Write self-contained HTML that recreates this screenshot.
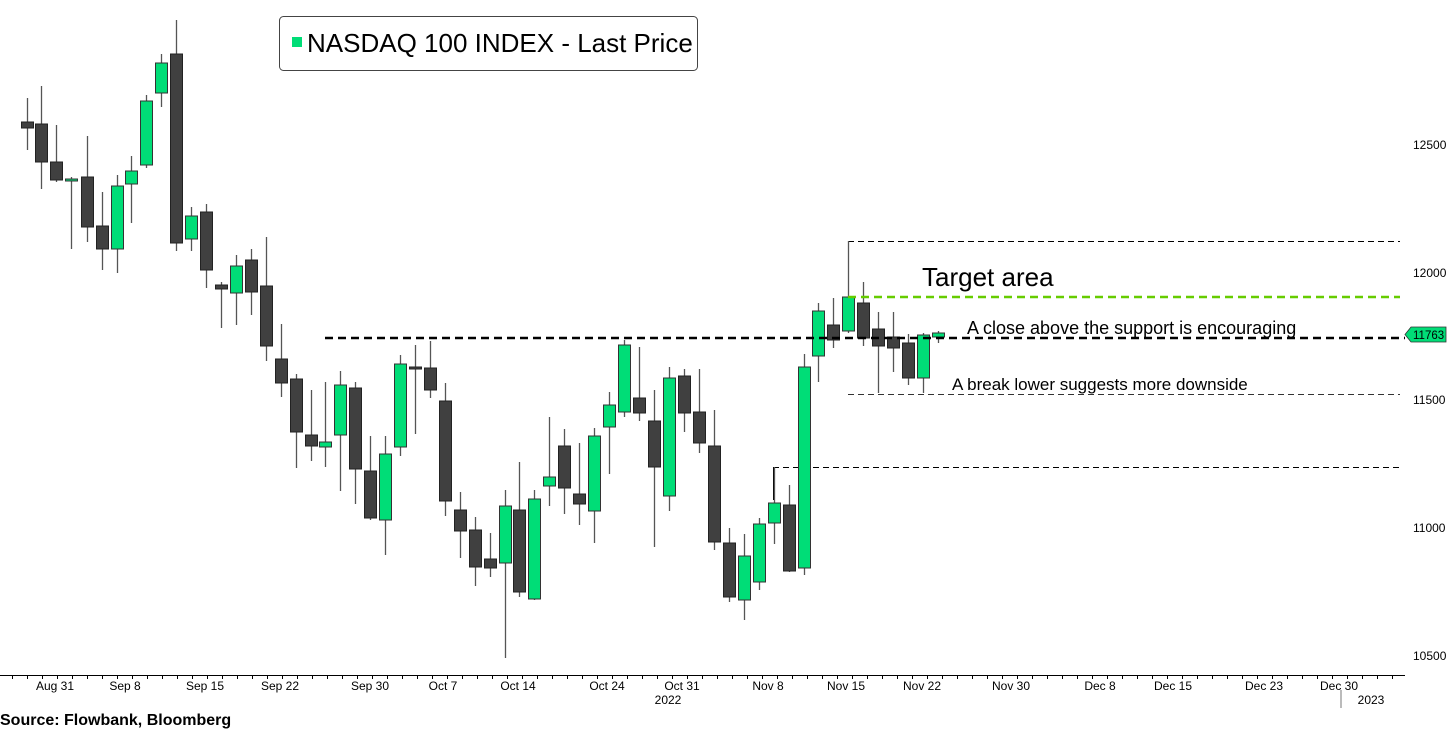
<!DOCTYPE html>
<html><head><meta charset="utf-8"><style>
body{margin:0;background:#fff;}
svg{display:block;font-family:"Liberation Sans",sans-serif;}
</style></head><body>
<svg id="s" width="1448" height="729" xmlns="http://www.w3.org/2000/svg">
<rect width="1448" height="729" fill="#fff"/>
<line x1="848" y1="241.5" x2="1400" y2="241.5" stroke="#000" stroke-width="1" stroke-dasharray="6,4"/>
<line x1="848.5" y1="241" x2="848.5" y2="297" stroke="#777" stroke-width="1"/>
<line x1="848" y1="394.5" x2="1400" y2="394.5" stroke="#333" stroke-width="1" stroke-dasharray="6,4"/>
<line x1="773" y1="467.5" x2="1400" y2="467.5" stroke="#000" stroke-width="1" stroke-dasharray="6,4"/>
<line x1="773.5" y1="467" x2="773.5" y2="500" stroke="#000" stroke-width="1"/>
<g id="c"></g>
<line x1="848" y1="297" x2="1400" y2="297" stroke="#66cc00" stroke-width="2.5" stroke-dasharray="8,5"/>
<line x1="325" y1="338" x2="1405" y2="338" stroke="#000" stroke-width="2.5" stroke-dasharray="8,5"/>
<rect x="279.5" y="16.5" width="418" height="54" rx="4" fill="#fff" stroke="#444"/>
<rect x="292" y="37" width="10" height="10" fill="#00dd77"/>
<text x="307" y="52" font-size="26" fill="#000">NASDAQ 100 INDEX - Last Price</text>
<text x="922" y="286" font-size="26" fill="#000">Target area</text>
<text x="967" y="334" font-size="18" fill="#000">A close above the support is encouraging</text>
<text x="952" y="390" font-size="17" fill="#000">A break lower suggests more downside</text>
<g font-size="12" fill="#000">
<text x="1413" y="149">12500</text>
<text x="1413" y="277">12000</text>
<text x="1413" y="404">11500</text>
<text x="1413" y="532">11000</text>
<text x="1413" y="660">10500</text>
</g>
<path d="M1405 334.5 L1411 327 L1446 327 L1446 342 L1411 342 Z" fill="#00dd77" stroke="#333" stroke-width="0.8"/>
<text x="1413" y="339" font-size="11.5" fill="#000">11763</text>
<line x1="0" y1="675.5" x2="1405" y2="675.5" stroke="#000" stroke-width="1"/>
<g id="t"></g>
<g font-size="12" fill="#000" text-anchor="middle" id="xl"></g>
<text x="668" y="704" font-size="12" text-anchor="middle">2022</text>
<text x="1371" y="704" font-size="12" text-anchor="middle">2023</text>
<line x1="1341" y1="690" x2="1341" y2="708" stroke="#777"/>
<text x="0" y="725" font-size="16" font-weight="bold" fill="#000">Source: Flowbank, Bloomberg</text>
</svg>
<script>
var d=[[27,98,122,128,150,0],[41,86,124,162,189,0],[56,125,162,180,182,0],[71,177,179,181,249,1],[87,136,177,227,242,0],[102,192,226,249,270,0],[117,175,186,249,273,1],[131,156,171,184,223,1],[146,95,101,165,168,1],[161,54,63,93,107,1],[176,20,54,243,251,0],[191,207,216,239,251,1],[206,204,212,270,288,0],[221,282,285,289,328,0],[236,255,266,293,325,1],[251,249,260,292,315,0],[266,237,286,346,361,0],[281,324,359,383,397,0],[296,374,379,432,468,0],[311,390,435,446,461,0],[325,382,442,447,467,1],[340,371,385,435,491,1],[355,382,388,469,504,0],[370,436,471,518,520,0],[385,436,454,520,555,1],[400,355,364,447,456,1],[415,345,367,369,434,0],[430,341,368,390,398,0],[445,383,401,501,516,0],[460,492,510,531,558,0],[475,517,530,567,586,0],[490,533,559,568,577,0],[505,490,506,563,658,1],[519,462,510,592,597,0],[534,490,499,599,600,1],[549,417,477,486,506,1],[564,429,446,488,514,0],[579,443,494,504,525,0],[594,428,436,511,543,1],[609,392,405,427,474,1],[624,340,345,412,417,1],[639,347,398,413,421,0],[654,390,421,467,547,0],[669,367,378,496,511,1],[684,369,376,413,432,0],[699,369,412,443,453,0],[714,410,446,542,550,0],[729,528,543,597,602,0],[744,534,556,600,620,1],[759,518,524,582,590,1],[774,467,503,523,544,1],[789,485,505,571,572,0],[804,354,367,568,575,1],[818,303,311,356,382,1],[833,298,325,340,348,0],[848,241,297,331,333,1],[863,282,303,338,346,0],[878,312,329,346,393,0],[893,312,337,348,372,0],[908,334,343,378,385,0],[923,333,335,378,393,1],[938,331,333,337,343,1]];
var g=document.getElementById('c'),h='';
d.forEach(function(c){var x=c[0];
h+='<line x1="'+(x+.5)+'" y1="'+c[1]+'" x2="'+(x+.5)+'" y2="'+c[4]+'" stroke="#555" stroke-width="1.3"/>';
var bh=Math.max(c[3]-c[2],2);
h+='<rect x="'+(x-5.5)+'" y="'+c[2]+'" width="12" height="'+bh+'" fill="'+(c[5]?'#00dd77':'#404040')+'" stroke="'+(c[5]?'#333':'#222')+'" stroke-width="1"/>';});
g.innerHTML=h;
var L=[["Aug 31",55],["Sep 8",125],["Sep 15",205],["Sep 22",280],["Sep 30",370],["Oct 7",443],["Oct 14",518],["Oct 24",607],["Oct 31",682],["Nov 8",768],["Nov 15",846],["Nov 22",922],["Nov 30",1011],["Dec 8",1100],["Dec 15",1173],["Dec 23",1264],["Dec 30",1339]];
var s='';L.forEach(function(l){s+='<text x="'+l[1]+'" y="690">'+l[0]+'</text>';});
document.getElementById('xl').innerHTML=s;
var t='';for(var x=12;x<1405;x+=15){t+='<line x1="'+(x+.5)+'" y1="675" x2="'+(x+.5)+'" y2="679" stroke="#000"/>';}
document.getElementById('t').innerHTML=t;
</script>
</body></html>
